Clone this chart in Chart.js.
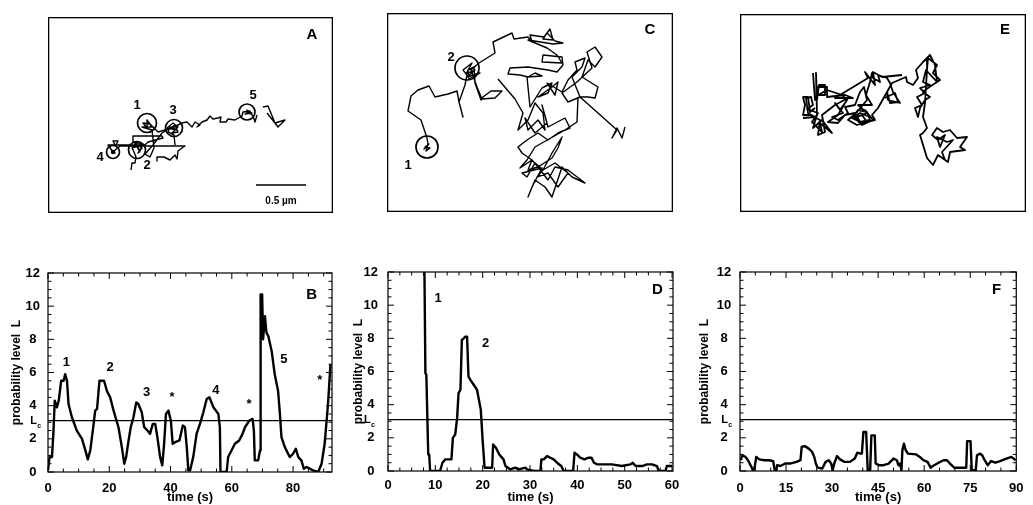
<!DOCTYPE html>
<html>
<head>
<meta charset="utf-8">
<script src="https://cdn.jsdelivr.net/npm/chart.js@4.4.1/dist/chart.umd.min.js"></script>
<style>
  html, body { margin: 0; padding: 0; background: #fff; }
  body { width: 1033px; height: 505px; position: relative; overflow: hidden; }
  .panel { position: absolute; }
  .panel canvas { display: block; }
</style>
</head>
<body>
<div class="panel" style="left:48px;top:17px"><canvas id="pA" width="285" height="196"></canvas></div>
<div class="panel" style="left:387px;top:13px"><canvas id="pC" width="286" height="199"></canvas></div>
<div class="panel" style="left:740px;top:14px"><canvas id="pE" width="286" height="198"></canvas></div>
<div class="panel" style="left:0px;top:250px"><canvas id="pB" width="345" height="255"></canvas></div>
<div class="panel" style="left:345px;top:250px"><canvas id="pD" width="345" height="255"></canvas></div>
<div class="panel" style="left:688px;top:250px"><canvas id="pF" width="345" height="255"></canvas></div>
<script>
// trajectories, positions in µm (null = break in the track)
var trackAx = [0.83,0.84,0.87,0.88,0.86, 0.84,0.90,0.86,0.92,0.89,0.94,0.90,0.95,0.91, 0.85,0.85,1.14,1.15,
  1.00,0.97,0.67,0.65,0.70,0.68,0.60, 0.65,0.67,0.66, 0.72,0.97,1.37,1.34, 1.30,1.29,1.27,1.22,1.16,1.09,1.09, null,
  1.27,1.26,1.20,1.22,1.29,1.19,1.25,1.30,1.24,1.30,1.27, 1.14,1.05,0.97,1.02,1.06,1.04,
  0.94,1.04,0.99,0.99,0.95,1.02,1.10,1.24,
  1.34,1.39,1.44,1.47,1.52,1.49,1.54,1.59,1.62,1.65,1.70,1.73,1.72,1.78,1.80,1.87,1.94,
  1.95,2.02,1.97,2.04,1.99,2.05,2.07,2.09, null, 2.15,2.20,2.27,2.30,2.37,2.27,2.19];
var trackAy = [0.43,0.50,0.50,0.56,0.61, 0.65,0.67,0.71,0.61,0.68,0.65,0.60,0.68,0.70, 0.71,0.77,0.77,0.75,
  0.71,0.68,0.68,0.72,0.72,0.68,0.68, 0.61,0.60,0.62, 0.67,0.67,0.67,0.65, 0.62,0.54,0.58,0.53,0.56,0.56,0.52, null,
  0.68,0.78,0.81,0.86,0.83,0.85,0.90,0.86,0.80,0.81,0.88, 0.80,0.68,0.59,0.56,0.65,0.83,
  0.86,0.86,0.93,0.85,0.90,0.89,0.81,0.85,
  0.90,0.91,0.86,0.91,0.88,0.86,0.91,0.93,0.97,0.94,0.95,0.96,0.91,0.91,0.94,0.93,0.97,
  1.01,1.02,0.99,1.00,1.03,0.97,0.91,0.98, null, 1.06,1.07,0.90,0.86,0.93,0.90,1.00];

var trackCx = [0.40,0.37,0.42,0.38,0.43,0.39,0.41,0.40,0.34,0.21,
  0.24,0.31,0.42,0.48,0.61,0.70,0.72,0.76,0.72,0.78,
  0.80,0.76,0.85,0.79,0.88,0.80,0.93,0.82,0.81,0.87,
  0.88,0.94,0.96,1.04,1.15,1.08,0.95,0.90,0.84,0.92,
  1.08,1.06,1.25,1.27,1.41,1.45,1.43,1.57,1.63,1.66,
  1.56,1.60,1.68,1.76,1.66,1.41,1.60,1.70,1.75,1.55,
  1.56,1.75,1.76,1.70,1.61,1.41,1.23,1.21,1.33,1.41,
  1.48,1.55,1.40,1.43,1.55,1.65,1.61,1.51,1.65,1.71,
  1.68,1.60,1.75,1.81,1.90,1.88,1.98,1.95,1.85,1.93,
  1.81,1.75,1.90,2.05,2.00,2.08,2.15,2.08,2.01,1.95,
  2.11,2.08,2.01,1.93,2.30,2.25,2.30,2.35,2.38, null,
  1.11,1.28,1.36,1.31,1.41,1.48,1.56,1.58,1.51,1.41,
  1.38,1.48,1.60,1.55,1.61,1.78,1.83,1.71,1.61,1.51,
  1.40,1.31,1.35,1.45,1.41,1.51,1.65,1.71,1.75,1.65,
  1.56,1.50,1.61,1.71,1.81,1.68,1.56,1.48,1.40,1.35,
  1.55,1.45,1.41,1.48,1.58,1.65,1.75,1.85,1.98,1.81,
  1.68,1.61,1.51,1.45,1.33,1.40,1.48,1.78,1.90,1.91];
var trackCy = [0.66,0.63,0.68,0.65,0.64,0.61,0.68,0.74,0.92,1.01,
  1.16,1.22,1.26,1.15,1.18,1.21,1.10,0.95,1.10,1.27,
  1.37,1.42,1.49,1.38,1.42,1.35,1.39,1.33,1.42,1.45,
  1.29,1.12,1.15,1.21,1.21,1.14,1.13,1.25,1.42,1.49,
  1.59,1.70,1.79,1.73,1.75,1.70,1.77,1.75,1.83,1.72,
  1.73,1.79,1.71,1.69,1.68,1.72,1.64,1.57,1.49,1.50,
  1.57,1.55,1.47,1.40,1.42,1.45,1.44,1.38,1.37,1.35,
  1.39,1.36,1.35,1.05,1.24,1.29,1.19,1.15,1.25,1.30,
  1.17,1.29,1.20,1.32,1.42,1.50,1.54,1.45,1.35,1.15,
  1.10,1.19,1.30,1.44,1.60,1.65,1.55,1.45,1.52,1.35,
  1.25,1.14,1.15,1.15,0.82,0.74,0.84,0.74,0.85, null,
  1.33,1.13,0.99,0.82,0.92,1.09,0.99,0.82,0.92,0.82,
  0.94,0.79,0.89,1.07,0.85,0.94,0.84,0.79,0.72,0.79,
  0.72,0.65,0.59,0.52,0.42,0.45,0.54,0.64,0.75,0.59,
  0.42,0.35,0.39,0.25,0.39,0.49,0.42,0.49,0.35,0.39,
  0.44,0.25,0.15,0.32,0.25,0.15,0.45,0.35,0.29,0.42,
  0.45,0.32,0.45,0.52,0.44,0.52,0.65,0.82,0.90,1.15];

var trackEx = [0.63,0.75,0.68,0.66,0.71,0.73,0.67,0.78,0.72,0.82,
  0.80,0.92,0.82,0.73,0.77,0.76,0.77,0.79,0.85,0.85,
  0.78,0.87,1.02,1.07,1.00,0.95,1.03,0.92,0.98,1.08,
  1.05,1.15,1.20,1.24,1.27,1.17,1.08,1.17,1.27,1.22,
  1.12,1.20,1.30,1.25,1.33,1.22,1.15,1.27,1.18,1.32,
  1.26,1.30,1.32,1.33,1.40,1.38,1.47,1.50,1.53,1.60,
  1.48,1.47,1.52,1.66,1.67,1.73,1.78,1.76,1.83,1.90,
  1.95,1.97,1.86,1.83,1.90,1.80,1.85,1.77,1.82,1.75,
  1.78,1.80,1.85,1.90,1.83,1.88,2.00,1.93,1.97,1.88,
  1.87,1.85,1.83,1.87,1.83,1.80,1.87,1.93,1.98,2.08,
  2.10,2.25,2.20,2.27,2.17,2.10,2.03,1.97,1.92,1.98,
  2.05,2.00,1.97,2.07,2.13,2.02,2.05, null,
  0.73,0.75,0.77,0.77,0.87,0.87,1.05,1.13,0.95,1.28,1.25,1.35,1.33,1.42,1.62, null,
  1.45,1.55,1.58,1.50,1.47,1.38,1.32,1.35,1.22,1.12,1.18,1.27,1.30,1.20,1.15,1.05,
  0.98,0.88,0.98,1.08,0.95,0.82,0.85,0.78,0.80,0.70,0.63,0.65,0.63,0.68,0.70,0.75];
var trackEy = [0.94,0.95,0.99,1.14,1.15,1.07,1.03,0.99,0.90,0.80,
  0.89,0.79,0.92,0.84,0.97,1.39,1.12,1.27,1.27,1.17,
  1.17,1.22,1.17,1.12,1.02,1.09,0.99,0.95,0.92,0.99,
  1.05,1.07,1.20,1.25,1.12,1.00,0.92,0.87,0.90,0.97,
  0.94,0.99,0.95,1.02,0.92,0.87,0.94,0.99,1.07,1.07,
  1.17,1.30,1.39,1.34,1.30,1.37,1.34,1.29,1.20,1.09,
  1.12,1.20,1.29,1.35,1.30,1.27,1.34,1.42,1.50,1.57,
  1.47,1.30,1.42,1.30,1.27,1.24,1.19,1.15,1.07,1.04,
  0.95,1.04,1.12,1.15,1.20,1.24,1.32,1.39,1.47,1.54,
  1.42,1.09,0.95,0.84,0.79,0.77,0.54,0.47,0.57,0.50,
  0.60,0.62,0.65,0.75,0.74,0.82,0.80,0.84,0.77,0.72,
  0.77,0.65,0.75,0.70,0.72,0.60,0.52, null,
  1.39,1.12,1.15,1.25,1.25,1.15,1.17,1.14,1.14,1.34,1.40,1.27,1.40,1.35,1.37, null,
  1.14,1.19,1.10,1.09,1.20,1.04,0.97,0.92,0.89,0.94,1.02,1.00,0.92,0.90,0.99,0.97,
  0.89,0.90,0.97,1.14,1.07,0.97,0.80,0.77,0.92,0.97,0.97,1.07,1.15,1.15,1.00,1.04];

// encircled confinement zones and their numbers
var ringAx = [0.99, 1.26, 0.89, 0.65, 1.99];
var ringAy = [0.90, 0.85, 0.63, 0.61, 1.01];
var markAx = [0.89, 1.25, 2.05, 0.52, 0.99];
var markAy = [1.08, 1.03, 1.18, 0.56, 0.48];
var markAtext = ['1', '3', '5', '4', '2'];
var ringCx = [0.40, 0.80];
var ringCy = [0.65, 1.44];
var markCx = [0.21, 0.64];
var markCy = [0.47, 1.55];
var markCtext = ['1', '2'];
var scaleBarX = [2.08, 2.58];
var scaleBarY = [0.28, 0.28];

// probability level L against time (s)
var levelBt = [0,0.5,1.3,1.8,2.2,2.9,3.5,4.3,5.1,5.6,6.2,6.7,7.8,9.4,11.1,12.2,13.0,13.8,14.9,15.4,
  16.0,16.8,18.3,19.2,20.3,21.4,23.0,24.1,24.9,25.5,26.3,27.0,27.9,28.8,29.5,30.6,31.4,32.5,33.3,34.2,
  35.0,35.7,36.6,37.3,37.9,38.5,39.3,40.1,40.7,41.5,42.9,44.0,44.7,45.3,45.8,46.4,47.4,48.5,49.6,50.7,
  51.8,52.7,54.0,54.8,55.6,56.1,56.3,58.3,58.8,59.9,61.0,62.4,63.5,64.3,65.7,66.8,67.2,67.5,68.6,69.2,
  69.4,69.9,70.2,70.8,71.3,71.9,73.0,74.0,75.1,75.7,76.2,77.3,78.9,80.0,80.9,81.7,82.7,83.5,84.4,85.5,
  86.5,88.2,89.3,90.3,91.4,92.2];
var levelBv = [0.1,0.9,0.9,2.5,4.3,3.9,4.3,5.5,5.5,5.9,5.5,4.1,3.3,2.5,2.0,1.3,0.76,1.3,2.9,3.7,
  3.8,5.5,5.5,4.9,4.5,3.7,2.7,1.5,0.5,0.9,1.9,2.7,3.3,4.2,4.1,3.6,2.7,2.5,2.3,2.9,
  2.9,2.1,0.9,0.4,1.7,3.5,3.7,3.1,1.7,1.8,1.9,2.8,2.7,1.5,0.1,0.1,0.9,2.3,2.9,3.6,
  4.4,4.5,3.9,3.7,3.5,2.7,0,0,0.9,1.3,1.7,1.9,2.3,2.7,3.1,3.2,2.5,0.7,0.7,1.3,
  10.7,10.7,8.0,9.4,8.4,8.2,7.3,5.9,4.9,3.5,2.1,1.5,0.9,1.1,1.4,0.9,0.7,0.2,0.3,0.2,
  0.1,0,0.5,1.7,4.1,6.5];
var markBt = [6.0, 20.3, 32.2, 40.5, 54.8, 65.6, 77.0, 88.7];
var markBv = [6.6, 6.3, 4.8, 4.5, 4.9, 4.1, 6.8, 5.5];
var markBtext = ['1', '2', '3', '*', '4', '*', '5', '*'];

var levelDt = [7.5,7.7,7.9,8.1,8.5,8.7,8.9,11.0,11.5,12.1,13.4,13.7,14.2,14.6,14.9,15.3,15.6,16.0,16.3,16.7,
  17.0,17.4,18.1,18.8,19.2,19.6,20.0,20.4,22.0,22.2,22.8,23.5,24.4,24.8,25.8,26.9,27.6,29.0,29.4,30.8,
  32.2,32.4,32.9,33.6,34.3,35.0,35.7,36.6,37.1,39.1,39.4,39.9,40.6,41.5,42.3,43.0,43.5,44.2,45.2,47.3,
  49.4,51.2,51.7,52.3,53.7,54.7,55.8,56.8,57.2,58.6,58.9,60.0];
var levelDv = [12.6,12,5.9,5.8,1.0,1.0,0,0,0.5,0.7,0.7,2.0,2.2,3.2,4.7,4.9,7.9,8.0,8.1,8.1,
  5.7,5.5,5.2,4.9,4.3,3.7,1.8,0.2,0.2,1.6,1.4,1.0,0.7,0.3,0.1,0.2,0.1,0.2,0.1,0,
  0,0.7,0.7,0.9,0.8,0.7,0.5,0.3,0,0,1.1,1.0,0.8,0.7,0.8,0.8,0.5,0.4,0.4,0.4,
  0.3,0.4,0.5,0.3,0.3,0.4,0.4,0.3,0,0,0.3,0.3];
var markDt = [10.6, 20.6];
var markDv = [10.4, 7.7];
var markDtext = ['1', '2'];

var levelFt = [0.3,0.7,1.8,2.6,3.7,4.2,4.7,5.3,6.3,7.9,9.5,10.8,11.3,11.9,12.1,13.2,14.7,16.3,18.4,19.7,
  20.1,21.1,22.4,23.5,24.2,24.7,25.3,26.8,27.9,28.9,29.7,30.2,30.7,31.6,32.6,34.0,35.8,37.4,38.2,39.3,
  39.7,40.2,41.1,41.6,42.4,42.8,43.9,44.2,45.3,46.8,48.4,50.0,51.1,51.6,52.1,52.6,52.9,53.4,54.0,54.7,
  57.4,58.6,59.7,61.1,62.1,62.8,64.7,66.3,67.4,68.4,69.8,72.1,73.7,74.0,75.1,75.5,76.8,77.2,78.2,78.9,
  79.7,80.7,81.8,83.2,84.7,86.8,88.4,89.8];
var levelFv = [0.65,0.95,0.85,0.65,0.25,0.05,0.15,0.85,0.7,0.65,0.65,0.6,0.05,0.05,0.35,0.3,0.45,0.45,0.55,0.65,
  1.45,1.5,1.35,1.15,0.85,0.45,0.2,0.15,0.55,0.65,0.45,0.05,0.45,0.9,0.7,0.55,0.55,0.75,1.1,1.05,
  1.05,2.35,2.35,0.05,0.05,2.15,2.15,0.45,0.35,0.35,0.45,0.75,0.65,0.35,0.45,0.05,1.25,1.65,1.25,1.05,
  1.0,0.85,0.65,0.55,0.2,0.3,0.5,0.65,0.65,0.45,0.2,0.2,0.2,1.8,1.8,0.05,0.05,0.95,1.05,0.95,
  0.65,0.35,0.6,0.5,0.6,0.75,0.85,0.65];

var criticalLevel = 3.1;
var yTicks = [0, 2, 4, 6, 8, 10, 12];
var xTicksB = [0, 20, 40, 60, 80];
var xTicksD = [0, 10, 20, 30, 40, 50, 60];
var xTicksF = [0, 15, 30, 45, 60, 75, 90];

var FAM = '"Liberation Sans", Arial, Helvetica, sans-serif';

function zip(xs, ys) {
  return xs.map(function (x, i) { return { x: x === null ? xs[i - 1] : x, y: ys[i] }; });
}
function notes(xs, ys, texts, font) {
  return xs.map(function (x, i) { return { x: x, y: ys[i], text: texts[i], font: font }; });
}

var framePlugin = {
  id: 'frame',
  afterDatasetsDraw: function (chart, args, o) {
    var ctx = chart.ctx, a = chart.chartArea;
    ctx.save();
    ctx.strokeStyle = '#000';
    ctx.lineWidth = o.width || 1.2;
    var inset = o.inset || 0;
    ctx.strokeRect(a.left + inset, a.top + inset, a.right - a.left - 2 * inset, a.bottom - a.top - 2 * inset);
    if (o.xMinor) {
      var sx = chart.scales.x, sy = chart.scales.y, i, v, p, len;
      ctx.lineWidth = 1;
      ctx.beginPath();
      for (i = 0; i * o.xMinor <= sx.max + 1e-9; i++) {
        v = i * o.xMinor; p = sx.getPixelForValue(v);
        len = Math.abs(v / o.xMajor - Math.round(v / o.xMajor)) < 1e-6 ? 6 : 3.5;
        ctx.moveTo(p, a.bottom); ctx.lineTo(p, a.bottom - len);
        ctx.moveTo(p, a.top); ctx.lineTo(p, a.top + len);
      }
      for (i = 0; i * o.yMinor <= sy.max + 1e-9; i++) {
        v = i * o.yMinor; p = sy.getPixelForValue(v);
        len = Math.abs(v / o.yMajor - Math.round(v / o.yMajor)) < 1e-6 ? 6 : 3.5;
        ctx.moveTo(a.left, p); ctx.lineTo(a.left + len, p);
        ctx.moveTo(a.right, p); ctx.lineTo(a.right - len, p);
      }
      ctx.stroke();
      // L_c label next to the threshold line
      var py = sy.getPixelForValue(criticalLevel);
      var lx = a.left - o.lcX;
      ctx.fillStyle = '#000';
      ctx.textAlign = 'left';
      ctx.textBaseline = 'alphabetic';
      ctx.font = 'bold 11px ' + FAM;
      ctx.fillText('L', lx, py + 3);
      ctx.font = 'bold 7px ' + FAM;
      ctx.fillText('c', lx + 7, py + 7);
    }
    ctx.restore();
  }
};

var notePlugin = {
  id: 'notes',
  afterDatasetsDraw: function (chart, args, o) {
    var ctx = chart.ctx, sx = chart.scales.x, sy = chart.scales.y;
    ctx.save();
    ctx.fillStyle = '#000';
    ctx.textAlign = 'center';
    ctx.textBaseline = 'middle';
    (o.items || []).forEach(function (n) {
      ctx.font = n.font;
      ctx.fillText(n.text, sx.getPixelForValue(n.x), sy.getPixelForValue(n.y));
    });
    ctx.restore();
  }
};

function trackChart(id, xs, ys, xMax, yMax, lineW, extra, items) {
  var sets = [{
    data: zip(xs, ys), showLine: true, spanGaps: false, borderColor: '#000',
    borderWidth: lineW, pointRadius: 0, tension: 0, borderJoinStyle: 'round'
  }].concat(extra);
  return new Chart(document.getElementById(id), {
    type: 'scatter',
    data: { datasets: sets },
    options: {
      responsive: false, animation: false, events: [],
      layout: { padding: 0, autoPadding: false },
      plugins: {
        legend: { display: false }, tooltip: { enabled: false },
        frame: { width: 1.3, inset: 0.65 },
        notes: { items: items }
      },
      scales: {
        x: { type: 'linear', display: false, min: 0, max: xMax },
        y: { type: 'linear', display: false, min: 0, max: yMax }
      }
    },
    plugins: [framePlugin, notePlugin]
  });
}

function ringSet(xs, ys, radii) {
  return {
    data: zip(xs, ys), showLine: false, pointRadius: radii, pointBorderWidth: 1.7,
    pointBorderColor: '#000', pointBackgroundColor: 'rgba(0,0,0,0)', pointStyle: 'circle'
  };
}

function levelChart(id, t, v, xMax, xTicks, tk, g, items) {
  var tickFont = { family: FAM, size: 13, weight: 'bold' };
  return new Chart(document.getElementById(id), {
    type: 'scatter',
    data: {
      datasets: [
        { data: zip(t, v), showLine: true, borderColor: '#000', borderWidth: 2.4, pointRadius: 0,
          tension: 0, borderJoinStyle: 'round' },
        { data: [{ x: 0, y: criticalLevel }, { x: xMax, y: criticalLevel }], showLine: true,
          borderColor: '#000', borderWidth: 1.1, pointRadius: 0 }
      ]
    },
    options: {
      responsive: false, animation: false, events: [],
      layout: { padding: { top: g.top, right: g.right, left: 0, bottom: 0 }, autoPadding: false },
      plugins: {
        legend: { display: false }, tooltip: { enabled: false },
        frame: { width: 1.2, xMinor: tk[0], xMajor: tk[1], yMinor: 0.5, yMajor: 2, lcX: g.lcX },
        notes: { items: items }
      },
      scales: {
        x: {
          type: 'linear', min: 0, max: xMax,
          grid: { display: false, drawTicks: false }, border: { display: false },
          afterBuildTicks: function (s) { s.ticks = xTicks.map(function (val) { return { value: val }; }); },
          afterFit: function (s) { s.height = g.bottom; },
          ticks: { color: '#000', font: tickFont, padding: g.xPad, maxRotation: 0, autoSkip: false },
          title: { display: true, text: 'time (s)', color: '#000', font: tickFont, padding: 0 }
        },
        y: {
          type: 'linear', min: 0, max: 12,
          grid: { display: false, drawTicks: false }, border: { display: false },
          afterBuildTicks: function (s) { s.ticks = yTicks.map(function (val) { return { value: val }; }); },
          afterFit: function (s) { s.width = g.left; },
          ticks: { color: '#000', font: tickFont, padding: g.yPad, crossAlign: 'center', autoSkip: false },
          title: { display: true, text: 'probability level  L', color: '#000',
                   font: { family: FAM, size: 12, weight: 'bold' }, padding: { top: g.titlePad, bottom: 0 } }
        }
      }
    },
    plugins: [framePlugin, notePlugin]
  });
}

var numFont = 'bold 13px ' + FAM;
var letterFont = 'bold 15px ' + FAM;

trackChart('pA', trackAx, trackAy, 2.85, 1.96, 1.4, [
  ringSet(ringAx, ringAy, [9.5, 8.5, 8.5, 6.5, 8]),
  { data: zip([ringAx[3]], [ringAy[3]]), showLine: false, pointRadius: 2.2, pointBackgroundColor: '#000', pointBorderWidth: 0 },
  { data: zip(scaleBarX, scaleBarY), showLine: true, borderColor: '#000', borderWidth: 1.6, pointRadius: 0 }
], notes(markAx, markAy, markAtext, numFont).concat([
  { x: 2.64, y: 1.78, text: 'A', font: letterFont },
  { x: 2.33, y: 0.12, text: '0.5 µm', font: 'bold 10px ' + FAM }
]));

trackChart('pC', trackCx, trackCy, 2.86, 1.99, 1.4, [
  ringSet(ringCx, ringCy, [11, 12])
], notes(markCx, markCy, markCtext, numFont).concat([
  { x: 2.63, y: 1.82, text: 'C', font: letterFont }
]));

trackChart('pE', trackEx, trackEy, 2.86, 1.98, 1.8, [], [
  { x: 2.65, y: 1.82, text: 'E', font: letterFont }
]);

levelChart('pB', levelBt, levelBv, 92.7, xTicksB, [5, 20],
  { top: 23, right: 13, bottom: 33, left: 48, xPad: 9, yPad: 8, titlePad: 9.8, lcX: 17.7 },
  notes(markBt, markBv, markBtext, numFont).concat([{ x: 86.1, y: 10.7, text: 'B', font: letterFont }]));

levelChart('pD', levelDt, levelDv, 60.2, xTicksD, [2.5, 10],
  { top: 22, right: 17, bottom: 34, left: 43, xPad: 7, yPad: 10, titlePad: 6, lcX: 24 },
  notes(markDt, markDv, markDtext, numFont).concat([{ x: 56.9, y: 10.9, text: 'D', font: letterFont }]));

levelChart('pF', levelFt, levelFv, 90, xTicksF, [5, 15],
  { top: 22, right: 8, bottom: 34, left: 52, xPad: 9.5, yPad: 8.7, titlePad: 9.8, lcX: 18.7 },
  [{ x: 83.6, y: 10.9, text: 'F', font: letterFont }]);
</script>
</body>
</html>
